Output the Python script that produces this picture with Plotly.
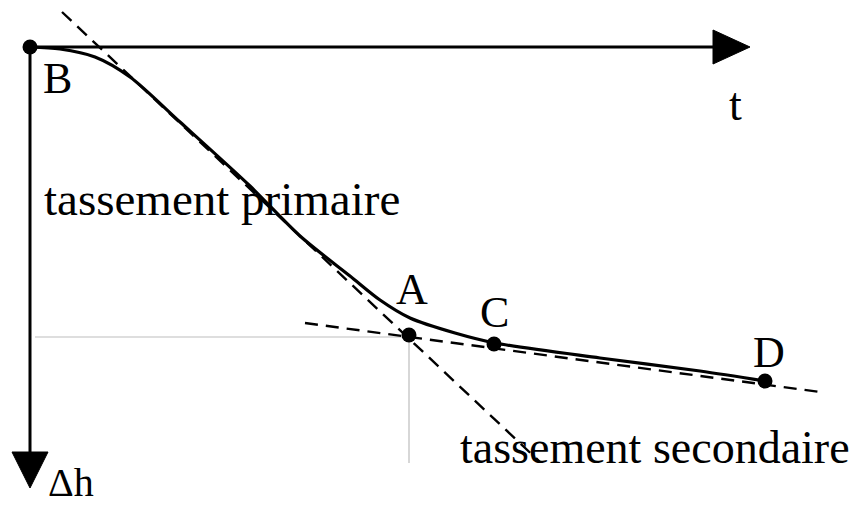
import plotly.graph_objects as go

# Schematic settlement curve (coordinates in drawing units, y grows downward)
curve_t = [30, 60, 95, 130, 180, 250, 300, 350, 380, 410, 455, 495, 600, 700, 765]
curve_dh = [47, 49, 57, 77, 122, 186, 236, 276, 300, 318, 333, 343, 358, 371, 381]

primary_tangent_t = [62, 540]
primary_tangent_dh = [12, 462]
secondary_tangent_t = [305, 820]
secondary_tangent_dh = [323, 392]

point_names = ["B", "A", "C", "D"]
point_t = [30, 409, 494, 765]
point_dh = [47, 335, 344, 381]
label_t = [57, 412, 494, 769]
label_dh = [78, 289, 312, 352]

guide_h_t = [35, 409]
guide_h_dh = [337, 337]
guide_v_t = [409, 409]
guide_v_dh = [337, 463]

t_axis_t = [30, 716]
t_axis_dh = [47, 47]
t_head_t = [713, 750, 713, 713]
t_head_dh = [30, 47, 64, 30]
dh_axis_t = [30, 30]
dh_axis_dh = [47, 453]
dh_head_t = [12, 48, 30, 12]
dh_head_dh = [452, 452, 488, 452]

texts = ["t", "Δh", "tassement primaire", "tassement secondaire"]
text_t = [735, 46, 42, 458]
text_dh = [104, 482, 199, 447]
text_anchor = ["center", "left", "left", "left"]
text_size = [46, 40, 47, 46]

FONT = "Liberation Serif"
OFFSET = 8  # page body margin compensation
fig = go.Figure()

# guides
fig.add_trace(go.Scatter(x=guide_h_t, y=guide_h_dh, mode="lines",
                         line=dict(color="#bdbdbd", width=1.2), hoverinfo="skip"))
fig.add_trace(go.Scatter(x=guide_v_t, y=guide_v_dh, mode="lines",
                         line=dict(color="#bdbdbd", width=1.2), hoverinfo="skip"))
# tangents
fig.add_trace(go.Scatter(x=primary_tangent_t, y=primary_tangent_dh, mode="lines",
                         line=dict(color="black", width=2.4, dash="13px,8px"), hoverinfo="skip"))
fig.add_trace(go.Scatter(x=secondary_tangent_t, y=secondary_tangent_dh, mode="lines",
                         line=dict(color="black", width=2.4, dash="13px,8px"), hoverinfo="skip"))
# axes
fig.add_trace(go.Scatter(x=t_axis_t, y=t_axis_dh, mode="lines",
                         line=dict(color="black", width=3), hoverinfo="skip"))
fig.add_trace(go.Scatter(x=t_head_t, y=t_head_dh, mode="lines", fill="toself",
                         fillcolor="black", line=dict(color="black", width=1), hoverinfo="skip"))
fig.add_trace(go.Scatter(x=dh_axis_t, y=dh_axis_dh, mode="lines",
                         line=dict(color="black", width=3), hoverinfo="skip"))
fig.add_trace(go.Scatter(x=dh_head_t, y=dh_head_dh, mode="lines", fill="toself",
                         fillcolor="black", line=dict(color="black", width=1), hoverinfo="skip"))
# curve
fig.add_trace(go.Scatter(x=curve_t, y=curve_dh, mode="lines", line_shape="spline",
                         line=dict(color="black", width=3.2, smoothing=0.8), hoverinfo="skip"))
# points
fig.add_trace(go.Scatter(x=point_t, y=point_dh, mode="markers",
                         marker=dict(color="black", size=15), hoverinfo="skip"))
for name, x, y in zip(point_names, label_t, label_dh):
    fig.add_annotation(x=x, y=y, text=name, showarrow=False, xanchor="center", yanchor="middle",
                       font=dict(family=FONT, size=44, color="black"))
for s, x, y, a, fs in zip(texts, text_t, text_dh, text_anchor, text_size):
    fig.add_annotation(x=x, y=y, text=s, showarrow=False, xanchor=a, yanchor="middle",
                       font=dict(family=FONT, size=fs, color="black"))

fig.update_layout(
    width=864, height=507, margin=dict(l=0, r=0, t=0, b=0),
    paper_bgcolor="white", plot_bgcolor="white", showlegend=False,
    xaxis=dict(range=[OFFSET, 864 + OFFSET], visible=False, fixedrange=True),
    yaxis=dict(range=[507 + OFFSET, OFFSET], visible=False, fixedrange=True),
)
fig.write_html("out.html")
